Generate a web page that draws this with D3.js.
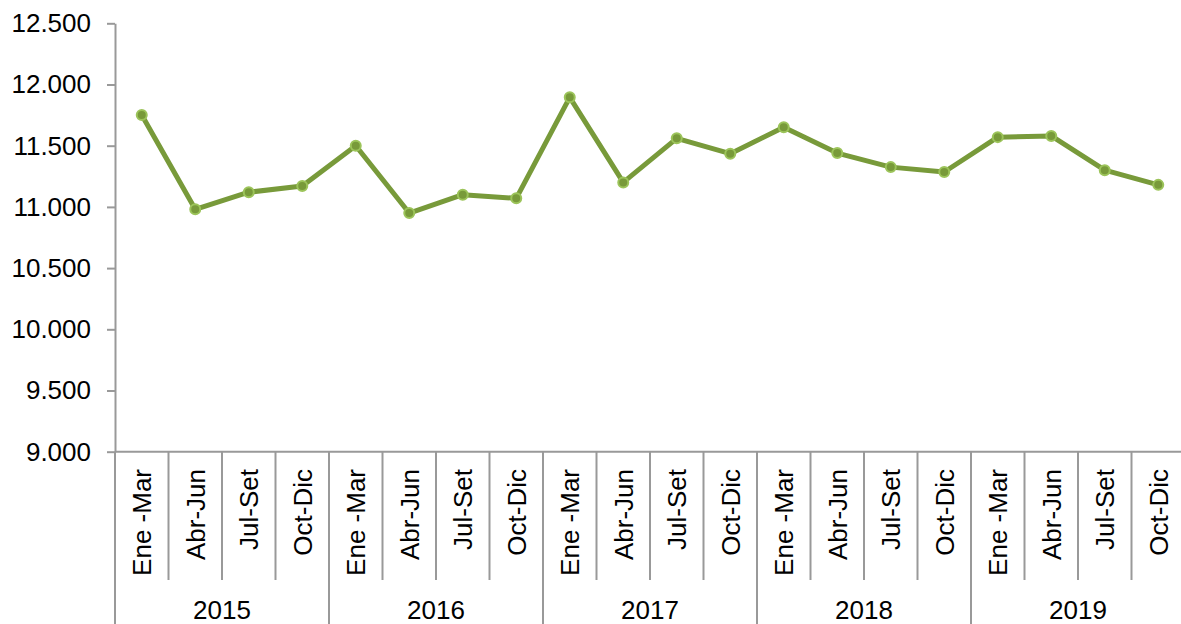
<!DOCTYPE html>
<html>
<head>
<meta charset="utf-8">
<script src="https://cdn.jsdelivr.net/npm/d3@7"></script>
<style>
  body { margin: 0; background: #fff; }
  text { font-family: "Liberation Sans", Arial, sans-serif; fill: #000; }
</style>
</head>
<body>
<div id="chart"></div>
<script>
var years = ['2015', '2016', '2017', '2018', '2019'];
var quarters = ['Ene -Mar', 'Abr-Jun', 'Jul-Set', 'Oct-Dic'];
var values = [11750, 10980, 11120, 11170, 11500, 10950, 11100, 11070,
              11895, 11200, 11560, 11435, 11650, 11440, 11325, 11285,
              11570, 11580, 11300, 11180];
var yTicks = [9000, 9500, 10000, 10500, 11000, 11500, 12000, 12500];

var width = 1181, height = 624;
var plotLeft = 115, plotRight = 1185, plotTop = 23.3, plotBottom = 451.7;
var fontSize = 26;
var axisColor = '#999999';
var lineColor = '#789a3a';
var markerStroke = '#9cc45a';

var cats = [];
years.forEach(function (y) {
  quarters.forEach(function (q) { cats.push({ year: y, quarter: q, key: y + '|' + q }); });
});
cats.forEach(function (c, i) { c.value = values[i]; });

var locale = d3.formatLocale({ decimal: ',', thousands: '.', grouping: [3], currency: ['', ''] });
var fmt = locale.format(',d');

var svg = d3.select('#chart').append('svg')
  .attr('width', width)
  .attr('height', height);

var x = d3.scaleBand().domain(cats.map(function (d) { return d.key; })).range([plotLeft, plotRight]).padding(0);
var y = d3.scaleLinear().domain([9000, 12500]).range([plotBottom, plotTop]);

// y axis
var yAxis = d3.axisLeft(y).tickValues(yTicks).tickSize(8).tickSizeOuter(0).tickPadding(16).tickFormat(fmt);
var gy = svg.append('g').attr('transform', 'translate(' + plotLeft + ',0)').call(yAxis);
gy.select('.domain').attr('stroke', axisColor).attr('stroke-width', 2);
gy.selectAll('.tick line').attr('stroke', axisColor).attr('stroke-width', 2);
gy.selectAll('.tick text').style('font-size', fontSize + 'px').attr('fill', '#000');

// x axis line
svg.append('line')
  .attr('x1', plotLeft).attr('x2', width)
  .attr('y1', plotBottom).attr('y2', plotBottom)
  .attr('stroke', axisColor).attr('stroke-width', 2);

// category dividers
svg.selectAll('.divider')
  .data(cats)
  .enter()
  .append('line')
  .attr('class', 'divider')
  .attr('x1', function (d) { return x(d.key); })
  .attr('x2', function (d) { return x(d.key); })
  .attr('y1', plotBottom)
  .attr('y2', function (d) { return d.quarter === quarters[0] ? height : 580; })
  .attr('stroke', axisColor).attr('stroke-width', 2);

// quarter labels
svg.selectAll('.qlabel')
  .data(cats)
  .enter()
  .append('text')
  .attr('class', 'qlabel')
  .attr('transform', function (d) {
    return 'translate(' + (x(d.key) + x.bandwidth() / 2) + ',469) rotate(-90)';
  })
  .attr('dy', '0.36em')
  .style('text-anchor', 'end')
  .style('font-size', fontSize + 'px')
  .text(function (d) { return d.quarter; });

// year labels
svg.selectAll('.ylabel')
  .data(years)
  .enter()
  .append('text')
  .attr('class', 'ylabel')
  .attr('x', function (d) { return x(d + '|' + quarters[0]) + x.bandwidth() * 2; })
  .attr('y', 619.3)
  .style('text-anchor', 'middle')
  .style('font-size', fontSize + 'px')
  .text(function (d) { return d; });

// line
var line = d3.line()
  .x(function (d) { return x(d.key) + x.bandwidth() / 2; })
  .y(function (d) { return y(d.value); });

svg.append('path')
  .datum(cats)
  .attr('d', line)
  .attr('fill', 'none')
  .attr('stroke', lineColor)
  .attr('stroke-width', 5)
  .attr('stroke-linejoin', 'round');

svg.selectAll('.dot')
  .data(cats)
  .enter()
  .append('circle')
  .attr('class', 'dot')
  .attr('cx', function (d) { return x(d.key) + x.bandwidth() / 2; })
  .attr('cy', function (d) { return y(d.value); })
  .attr('r', 5)
  .attr('fill', lineColor)
  .attr('stroke', markerStroke)
  .attr('stroke-width', 2);
</script>
</body>
</html>
